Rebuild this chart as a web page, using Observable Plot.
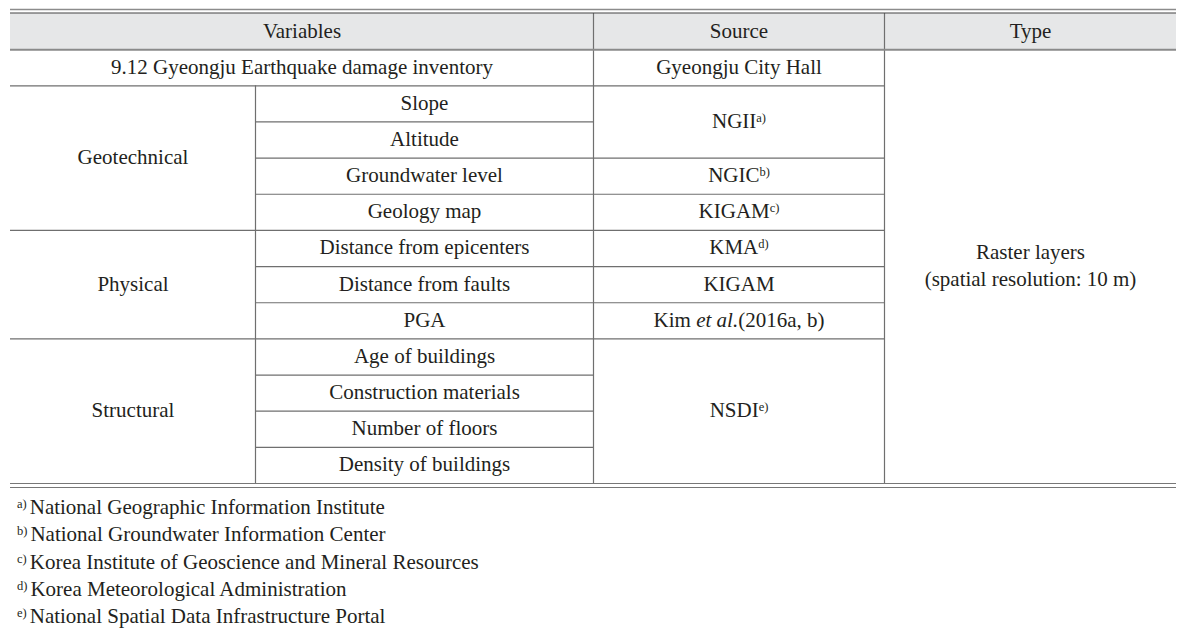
<!DOCTYPE html>
<html><head><meta charset="utf-8">
<script src="https://cdn.jsdelivr.net/npm/d3@7"></script>
<script src="https://cdn.jsdelivr.net/npm/@observablehq/plot@0.6"></script>
<style>
body{margin:0;background:#fff;}
#chart svg{display:block;}
#notes{font-family:'Liberation Serif';font-size:21px;color:#231f20;padding-left:17px;}
#notes div{height:27.3px;line-height:27.3px;white-space:nowrap;}
#notes .sup{font-size:12.5px;position:relative;top:-6px;margin-right:3px;line-height:0;}
</style></head><body>
<div id="chart"></div>
<div id="notes"></div>
<script>
// ---- data ----
const headers = ["Variables", "Source", "Type"];
const inventory = ["9.12 Gyeongju Earthquake damage inventory", "Gyeongju City Hall"];
const variables = ["Slope", "Altitude", "Groundwater level", "Geology map",
  "Distance from epicenters", "Distance from faults", "PGA",
  "Age of buildings", "Construction materials", "Number of floors", "Density of buildings"];
const variableGroups = ["Geotechnical", "Geotechnical", "Geotechnical", "Geotechnical",
  "Physical", "Physical", "Physical",
  "Structural", "Structural", "Structural", "Structural"];
const sources = ["NGII^a)", "NGII^a)", "NGIC^b)", "KIGAM^c)",
  "KMA^d)", "KIGAM", "Kim *et al.*(2016a, b)",
  "NSDI^e)", "NSDI^e)", "NSDI^e)", "NSDI^e)"];
const typeLines = ["Raster layers", "(spatial resolution: 10 m)"];
const footnoteKeys = ["a)", "b)", "c)", "d)", "e)"];
const footnoteTexts = ["National Geographic Information Institute",
  "National Groundwater Information Center",
  "Korea Institute of Geoscience and Mineral Resources",
  "Korea Meteorological Administration",
  "National Spatial Data Infrastructure Portal"];

const fontStack = "'Liberation Serif'";

// ---- layout ----
const colEdges = [10, 255, 593, 884, 1176];
const nRows = 2 + variables.length;
const mid = (a, b) => (a + b) / 2;
const [c0, c1, c2, c3, c4] = colEdges;

function runs(arr) {
  const out = [];
  arr.forEach((v, i) => {
    if (i > 0 && arr[i - 1] === v) out[out.length - 1].end = i + 1;
    else out.push({value: v, start: i, end: i + 1});
  });
  return out;
}

const cells = [];
cells.push({x: mid(c0, c2), y: 0.5, text: headers[0]});
cells.push({x: mid(c2, c3), y: 0.5, text: headers[1]});
cells.push({x: mid(c3, c4), y: 0.5, text: headers[2]});
cells.push({x: mid(c0, c2), y: 1.5, text: inventory[0]});
cells.push({x: mid(c2, c3), y: 1.5, text: inventory[1]});
runs(variableGroups).forEach(r => cells.push({x: mid(c0, c1), y: 2 + (r.start + r.end) / 2, text: r.value}));
variables.forEach((v, i) => cells.push({x: mid(c1, c2), y: 2 + i + 0.5, text: v}));
runs(sources).forEach(r => cells.push({x: mid(c2, c3), y: 2 + (r.start + r.end) / 2, text: r.value}));
cells.push({x: mid(c3, c4), y: (1 + nRows) / 2, text: typeLines.join("\n")});

const hInner = [{y: 2, x1: c0, x2: c3}];
for (let i = 0; i < variables.length - 1; i++) {
  const gChange = variableGroups[i] !== variableGroups[i + 1];
  const sChange = sources[i] !== sources[i + 1];
  hInner.push({y: 2 + i + 1, x1: gChange ? c0 : c1, x2: sChange ? c3 : c2});
}
const hFull = (y) => [{y, x1: c0, x2: c4}];
const vRules = [
  {x: c1, y1: 2, y2: nRows},
  {x: c2, y1: 0, y2: nRows},
  {x: c3, y1: 0, y2: nRows}
];

const plot = Plot.plot({
  width: 1195,
  height: 494,
  margin: 0,
  x: {type: "identity", axis: null},
  y: {domain: [0, nRows], range: [13, 483], axis: null},
  style: {fontFamily: fontStack, fontSize: "21px", background: "#fff", color: "#231f20"},
  marks: [
    Plot.rect(hFull(0), {x1: "x1", x2: "x2", y1: 0, y2: 1, fill: "#e6e7e8"}),
    Plot.ruleY(hInner, {y: "y", x1: "x1", x2: "x2", stroke: "#6f6f6f", strokeWidth: 1.2}),
    Plot.ruleX(vRules, {x: "x", y1: "y1", y2: "y2", stroke: "#6f6f6f", strokeWidth: 1.2}),
    Plot.ruleY(hFull(1), {y: "y", x1: "x1", x2: "x2", stroke: "#8a8a8a", strokeWidth: 2}),
    Plot.ruleY(hFull(0), {y: "y", x1: "x1", x2: "x2", stroke: "#8c8c8c", strokeWidth: 1.4, dy: -4}),
    Plot.ruleY(hFull(0), {y: "y", x1: "x1", x2: "x2", stroke: "#444", strokeWidth: 1.2, dy: -0.5}),
    Plot.ruleY(hFull(nRows), {y: "y", x1: "x1", x2: "x2", stroke: "#777", strokeWidth: 1.2}),
    Plot.ruleY(hFull(nRows), {y: "y", x1: "x1", x2: "x2", stroke: "#777", strokeWidth: 1.2, dy: 4}),
    Plot.text(cells, {x: "x", y: "y", text: "text", fill: "#231f20", fontSize: 21, fontFamily: fontStack, lineHeight: 1.33, dy: -3})
  ]
});

// rich text: ^x) superscripts and *italic*
const NS = "http://www.w3.org/2000/svg";
plot.querySelectorAll("text").forEach(t => {
  const s = t.textContent;
  if (!/[\^*]/.test(s) || t.children.length) return;
  const parts = s.split(/(\^[a-e]\)|\*[^*]+\*)/).filter(p => p !== "");
  t.textContent = "";
  let raised = false;
  parts.forEach(p => {
    const ts = document.createElementNS(NS, "tspan");
    if (p.startsWith("^")) {
      ts.textContent = p.slice(1);
      ts.setAttribute("font-size", "12.5");
      ts.setAttribute("dy", "-6");
      raised = true;
    } else {
      if (p.startsWith("*")) { ts.textContent = p.slice(1, -1); ts.setAttribute("font-style", "italic"); }
      else ts.textContent = p;
      if (raised) { ts.setAttribute("dy", "6"); raised = false; }
    }
    t.appendChild(ts);
  });
});

document.getElementById("chart").appendChild(plot);

const notes = document.getElementById("notes");
footnoteKeys.forEach((k, i) => {
  const div = document.createElement("div");
  const sup = document.createElement("span");
  sup.className = "sup";
  sup.textContent = k;
  div.appendChild(sup);
  div.appendChild(document.createTextNode(footnoteTexts[i]));
  notes.appendChild(div);
});
</script></body></html>
